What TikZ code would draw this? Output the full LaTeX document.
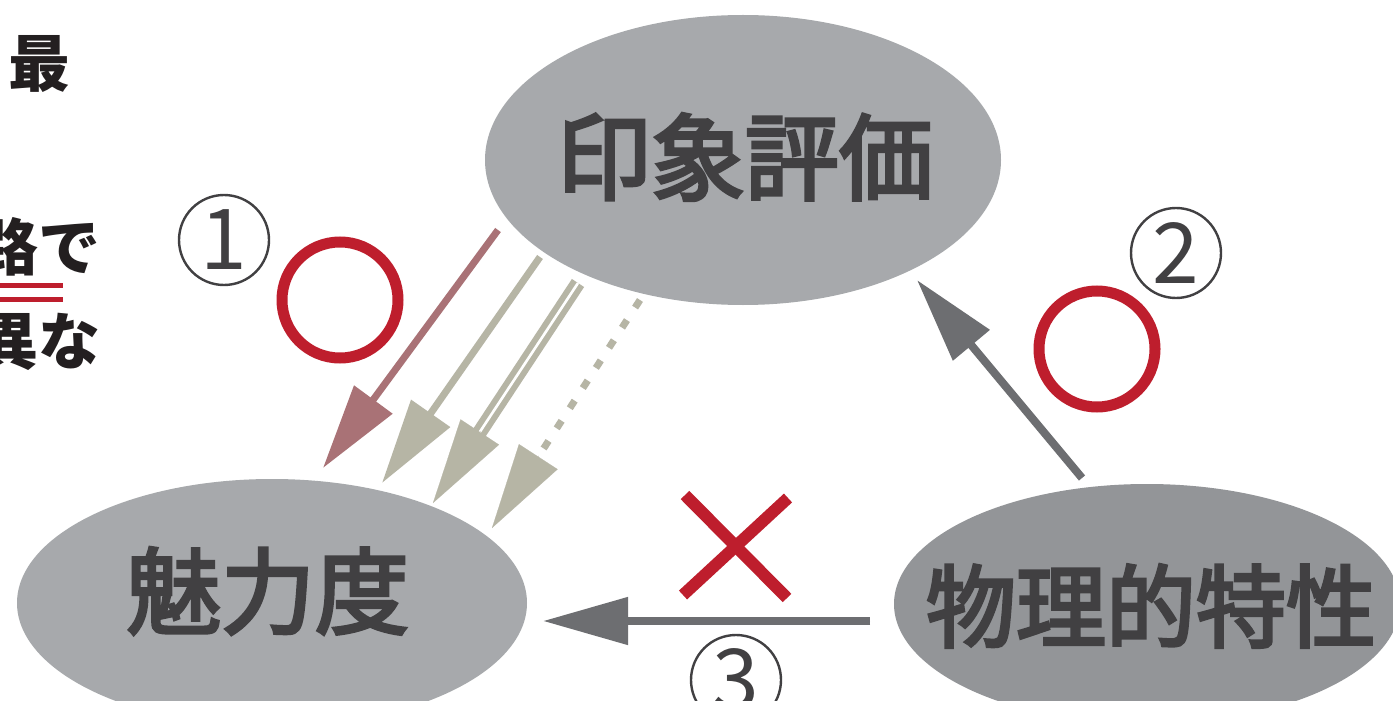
\documentclass[tikz,border=0pt]{standalone}
\usepackage{fontspec}
\newfontfamily\jp{Noto Sans CJK JP}
\newfontfamily\jpmed[FakeBold=3.5]{Noto Sans CJK JP}
\usetikzlibrary{shapes.geometric,arrows.meta,calc}
\definecolor{ellA}{HTML}{A7A9AC}
\definecolor{ellB}{HTML}{939598}
\definecolor{txt}{HTML}{414042}
\definecolor{blk}{HTML}{231F20}
\definecolor{myred}{HTML}{BE1E2D}
\definecolor{rosy}{HTML}{A97276}
\definecolor{oliv}{HTML}{B6B5A5}
\definecolor{darkg}{HTML}{6D6E71}
\begin{document}
\begin{tikzpicture}[x=0.5pt,y=-0.5pt,
  ell/.style={ellipse, inner sep=0pt, draw=none},
  bigtxt/.style={inner sep=0pt, text=txt, font=\jpmed\fontsize{47pt}{47pt}\selectfont},
  lefttxt/.style={inner sep=0pt, text=blk, anchor=east, font=\jp\bfseries\fontsize{31pt}{31pt}\selectfont},
  headtip/.style={-{Triangle[length=42.5pt,width=23pt]}},
  rosyarrow/.style={draw=rosy, fill=rosy, line width=3.5pt, headtip},
  olivarrow/.style={draw=oliv, fill=oliv, line width=3.5pt, headtip},
  darkarrow/.style={draw=darkg, fill=darkg, line width=4pt, headtip},
  tiponly/.style={line width=0.1pt, headtip},
  redring/.style={circle, draw=myred, line width=5.5pt, minimum size=58pt, inner sep=0pt},
  redcross/.style={draw=myred, line width=6pt},
  circnum/.style={circle, draw=txt, line width=1.2pt, minimum size=45pt, inner sep=0pt, text=txt, font=\jp\fontsize{42pt}{42pt}\selectfont},
  uline/.style={draw=myred, line width=2.5pt}
]
\useasboundingbox (0,0) rectangle (1393,701);
\clip (0,0) rectangle (1393,701);
\fill[white] (0,0) rectangle (1393,701);

% left text fragments
\node[lefttxt] (t1) at (71,64) {最};
\node[lefttxt] (t2) at (101,247) {路で};
\node[lefttxt] (t3) at (101,342) {異な};
\draw[uline] (0,285.5) -- (63,285.5);
\draw[uline] (0,299.5) -- (63,299.5);

% ellipses
\node[ell, fill=ellA, minimum width=258pt, minimum height=145pt] (inshou) at (743,160) {};
\node[bigtxt] (inshouT) at (745,157) {印象評価};
\node[ell, fill=ellA, minimum width=255pt, minimum height=124pt] (miryoku) at (272,603) {};
\node[bigtxt] (miryokuT) at (268,591) {魅力度};
\node[ell, fill=ellB, minimum width=253pt, minimum height=120pt] (butsuri) at (1147,604) {};
\node[bigtxt, font=\jpmed\fontsize{45pt}{45pt}\selectfont] (butsuriT) at (1151,606) {物理的特性};

% arrow end points
\coordinate (a1s) at (498,230); \coordinate (a1t) at (323,468);
\coordinate (a2s) at (540,257); \coordinate (a2t) at (382,483);
\coordinate (a3s) at (578,283); \coordinate (a3t) at (433,503);
\coordinate (a4s) at (640,300); \coordinate (a4t) at (492,528);
\coordinate (b2s) at (1082,478); \coordinate (b2t) at (917,280);
\coordinate (b3s) at (870,621); \coordinate (b3t) at (543,621);

% path 1 arrows
\draw[rosyarrow] (a1s) -- (a1t);
\draw[olivarrow] (a2s) -- (a2t);
\draw[draw=oliv, line width=3pt, double=white, double distance=1.3pt, shorten >=38pt] (a3s) -- (a3t);
\draw[tiponly, draw=oliv, fill=oliv] ($(a3t)!43pt!(a3s)$) -- (a3t);
\draw[draw=oliv, line width=3.5pt, dash pattern=on 4.5pt off 7.5pt, shorten >=40pt] (a4s) -- (a4t);
\draw[tiponly, draw=oliv, fill=oliv] ($(a4t)!43pt!(a4s)$) -- (a4t);

% path 2 and 3
\draw[darkarrow] (b2s) -- (b2t);
\draw[darkarrow] (b3s) -- (b3t);

% marks
\node[redring] (ok1) at (340,300) {};
\node[redring] (ok2) at (1097,349) {};
\draw[redcross] (685,495) -- (787,598);
\draw[redcross] (788,498) -- (683,595);

% circled numbers
\node[circnum] (n1) at (224,240) {1};
\node[circnum] (n2) at (1176,253) {2};
\node[circnum] (n3) at (736,680) {3};
\end{tikzpicture}
\end{document}
